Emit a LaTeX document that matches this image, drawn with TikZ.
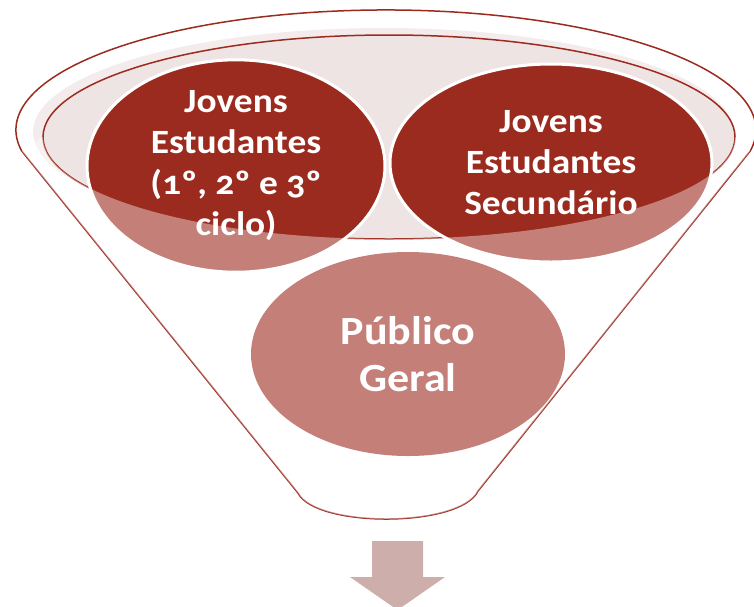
\documentclass[tikz,border=0pt]{standalone}
\usepackage{fontspec}
\setmainfont{Carlito}[Numbers=OldStyle,FakeStretch=1.1]
\usetikzlibrary{shapes.geometric}

\definecolor{funnelred}{HTML}{9B2B1F}
\definecolor{rimpink}{HTML}{EFE4E4}
\definecolor{rimband}{HTML}{F4ECEC}
\definecolor{arrowpink}{HTML}{CDAEAB}

\tikzset{
    ball/.style={ellipse, fill=funnelred, draw=white, line width=3pt, inner sep=0pt,
        align=center, text=white, font=\fontsize{34}{41}\selectfont\bfseries},
    rim/.style={draw=funnelred, line width=1.5pt}
}

\begin{document}
\begin{tikzpicture}[x=1pt,y=1pt]
    \useasboundingbox (0,0) rectangle (754,-606);
    \clip (0,0) rectangle (754,-606);
    \coordinate (o) at (386,-130);
    \coordinate (i) at (389,-137);
    \coordinate (tl) at (21.6,-150.8);
    \coordinate (tr) at (750.4,-150.8);
    \coordinate (bl) at (298,-493);
    \coordinate (br) at (478,-491);
    % funnel outline
    \draw[rim, fill=white] (tl) arc[start angle=190, end angle=-10, x radius=370, y radius=120]
        -- (br) .. controls (460,-528) and (316,-528) .. (bl) -- cycle;
    \fill[rimband] (383,-132) ellipse[x radius=350, y radius=104];
    \draw[rim, fill=rimpink] (i) ellipse[x radius=346, y radius=102];

    \node[ball, minimum width=298pt, minimum height=204pt] (basico) at (236,-166)
        {Jovens\\Estudantes\\(1º, 2º e 3º\\ciclo)};
    \node[ball, minimum width=322pt, minimum height=198pt] (secundario) at (551,-163)
        {Jovens\\Estudantes\\Secundário};
    \node[ball, draw=none, minimum width=314pt, minimum height=204pt,
        font=\fontsize{40}{47}\selectfont\bfseries] (publico) at (408,-354) {Público\\Geral};

    % front of the funnel
    \fill[white, opacity=0.4] (43,-137) arc[start angle=180, end angle=360, x radius=346, y radius=102]
        -- (tr) -- (br) .. controls (460,-528) and (316,-528) .. (bl) -- (tl) -- cycle;

    \fill[arrowpink] (372,-541) -- (423,-541) -- (423,-577) -- (445,-577)
        -- (397.5,-610) -- (350,-577) -- (372,-577) -- cycle;
\end{tikzpicture}
\end{document}
